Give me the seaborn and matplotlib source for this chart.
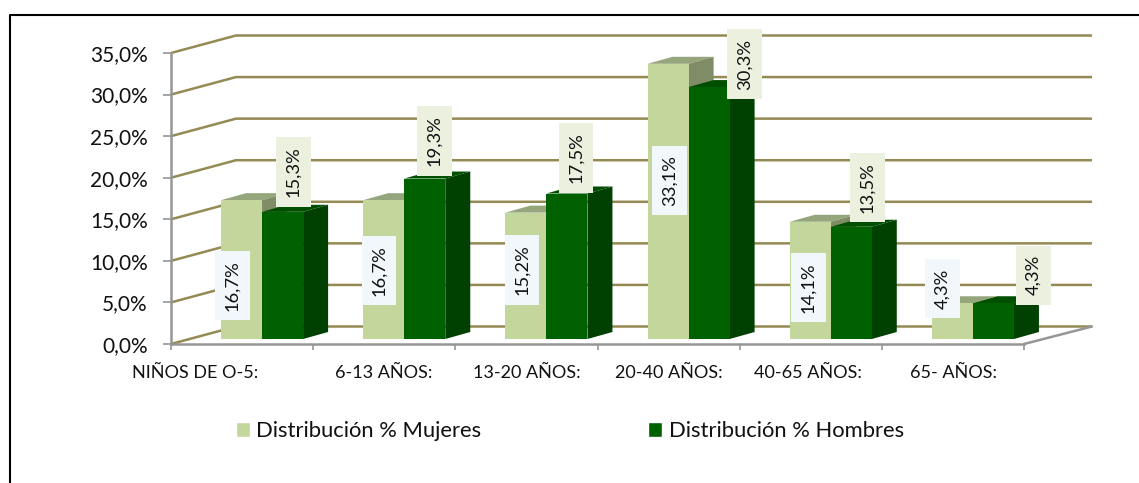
import pandas as pd
import seaborn as sns
import matplotlib.pyplot as plt
from matplotlib.lines import Line2D
from matplotlib.patches import Polygon

#values
categories = ['NIÑOS DE O-5:', '6-13 AÑOS:', '13-20 AÑOS:', '20-40 AÑOS:', '40-65 AÑOS:', '65- AÑOS:']
mujeres = [16.7, 16.7, 15.2, 33.1, 14.1, 4.3]
hombres = [15.3, 19.3, 17.5, 30.3, 13.5, 4.3]
series_names = ['Distribución % Mujeres', 'Distribución % Hombres']
y_ticks = [0, 5, 10, 15, 20, 25, 30, 35]

#long table for seaborn
df = pd.DataFrame({
    'grupo': categories * 2,
    'serie': [series_names[0]] * 6 + [series_names[1]] * 6,
    'valor': mujeres + hombres,
})

#colours of each bar: front, top, side
light = ('#C3D69B', '#96A67C', '#7F8C66')
dark = ('#006100', '#004F00', '#004000')
grid_color = '#948A54'
axis_color = '#969696'

sns.set_theme(style='white')
plt.rcParams['font.family'] = ['Lato', 'DejaVu Sans']

W, H = 1139, 483
fig = plt.figure(figsize=(W / 100, H / 100), dpi=100)
ax = fig.add_axes([171 / W, 1 - 344 / H, 853 / W, 291 / H])

sns.barplot(data=df, x='grupo', y='valor', hue='serie', order=categories,
            palette=[light[0], dark[0]], width=0.577, gap=0, saturation=1,
            legend=False, ax=ax, linewidth=0)
ax.set_xlim(-0.5, 5.5)
ax.set_ylim(0, 35)
ax.set_xlabel('')
ax.set_ylabel('')

#pixels to data units, the fake 3D is done with these offsets
px_x = 6 / 853
px_y = 35 / 291

#back wall and gridlines
wall_dx, wall_dy = 65 * px_x, 17.5 * px_y
right_dx = 68 * px_x
for v in y_ticks:
    ax.plot([-0.5, -0.5 + wall_dx, 5.5 + right_dx], [v, v + wall_dy, v + wall_dy],
            color=grid_color, lw=1.8, clip_on=False, zorder=1, solid_capstyle='butt')
ax.plot([5.5, 5.5 + right_dx], [0, wall_dy], color=axis_color, lw=1.8, clip_on=False, zorder=1)

#move the bars onto the floor and add top and side faces
shift_x, shift_y = 20 * px_x, 5 * px_y
depth_x, depth_y = 25 * px_x, 7 * px_y
bars = [b for b in ax.patches if b.get_height() > 0]
for i, bar in enumerate(bars):
    cols = light if i < 6 else dark
    z = 3 if i < 6 else 5
    bar.set_x(bar.get_x() + shift_x)
    bar.set_y(shift_y)
    bar.set_clip_on(False)
    bar.set_zorder(z + 0.5)
    x0, x1 = bar.get_x(), bar.get_x() + bar.get_width()
    y0, y1 = shift_y, shift_y + bar.get_height()
    ax.add_patch(Polygon([(x0, y1), (x1, y1), (x1 + depth_x, y1 + depth_y), (x0 + depth_x, y1 + depth_y)],
                         facecolor=cols[1], edgecolor='none', clip_on=False, zorder=z))
    ax.add_patch(Polygon([(x1, y0), (x1 + depth_x, y0 + depth_y), (x1 + depth_x, y1 + depth_y), (x1, y1)],
                         facecolor=cols[2], edgecolor='none', clip_on=False, zorder=z))

#data labels, moved by hand in the original (pixels from top centre of each bar)
label_dx = [-9, -4.7, -3.8, 1.5, -1.7, -9.8, 11, 9.8, 9, 35.5, 16.3, 40]
label_dy = [-85, -70, -57.4, -117, -66, 14.7, 39.8, 37.5, 35.5, 23, 38.8, 28]
for i, bar in enumerate(bars):
    val = bar.get_height()
    ax.annotate(f'{val:.1f}%'.replace('.', ','),
                xy=(bar.get_x() + bar.get_width() / 2, shift_y + val),
                xytext=(label_dx[i] * 0.72, label_dy[i] * 0.72), textcoords='offset points',
                rotation=90, ha='center', va='center', fontsize=13.2, color='#111111',
                annotation_clip=False, zorder=10,
                bbox=dict(boxstyle='square,pad=0.5', fc='#F2F7FB' if i < 6 else '#EBF0DF', ec='none'))

#axes
sns.despine(ax=ax, top=True, right=True)
for side in ['left', 'bottom']:
    ax.spines[side].set_color(axis_color)
    ax.spines[side].set_linewidth(1.8)
    ax.spines[side].set_zorder(2)
ax.set_yticks(y_ticks)
ax.set_yticklabels([f'{v:.1f}%'.replace('.', ',') for v in y_ticks])
ax.tick_params(axis='y', left=True, length=5.8, width=1.2, color=axis_color, labelsize=15, pad=11, labelcolor='#111111')

#x labels do not sit under the band centres in the original
label_px = [195, 384, 526.5, 668.5, 808, 953.5]
ax.set_xticks([(p - 171) * px_x - 0.5 for p in label_px])
ax.set_xticklabels(categories)
ax.tick_params(axis='x', bottom=False, labelsize=13, pad=9, labelcolor='#111111')
ax.set_xticks([i - 0.5 for i in range(7)], minor=True)
ax.tick_params(axis='x', which='minor', bottom=True, length=4, width=1.2, color=axis_color)

#legend
handles = [plt.Rectangle((0, 0), 1, 1, fc=light[0]), plt.Rectangle((0, 0), 1, 1, fc=dark[0])]
fig.legend(handles, series_names, ncol=2, frameon=False, fontsize=15.8, labelcolor='#111111',
           loc='center left', bbox_to_anchor=(229 / W, 1 - 431 / H), handlelength=0.64, handleheight=0.64,
           handletextpad=0.3, columnspacing=7.6, borderaxespad=0, borderpad=0.3)

#black border on top and left only
fig.add_artist(Line2D([10 / W, 10 / W, 1], [0, 1 - 15 / H, 1 - 15 / H], color='black', lw=1.5,
                      transform=fig.transFigure))

fig.savefig('out.png', dpi=100)
